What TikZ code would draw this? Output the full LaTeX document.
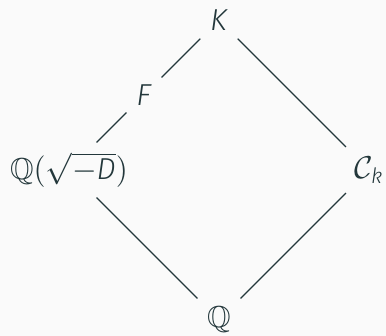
\documentclass[tikz,border=0pt]{standalone}
\usepackage{amsmath,amssymb}
\usepackage{fontspec}
\setmainfont{Fira Sans Light}[ItalicFont={Fira Sans Light Italic}]
\usepackage{xcolor}
\definecolor{mDarkTeal}{HTML}{23373B}
\definecolor{mBack}{HTML}{FAFAFA}
\usetikzlibrary{positioning}

\begin{document}
\begin{tikzpicture}[color=mDarkTeal, line width=0.45pt,
    font=\fontsize{11.5}{13}\selectfont,
    field/.style={inner sep=3.5pt}]

    % --- Background ---
    \fill[mBack] (-2.92,-0.213) rectangle (2.227,4.267);
    \useasboundingbox (-2.92,-0.213) rectangle (2.227,4.267);

    % --- Fields ---
    \node[field] (Q)  at (0,0)  {$\mathbb{Q}$};
    \node[field] (QD) at (-2,2) {$\mathbb{Q}(\sqrt{-\textit{D}})$};
    \node[field] (Ck) at (2,2)  {$\mathcal{C}_{\textit{k}}$};
    \node[field] (F)  at (-1,3) {\textit{F}};
    \node[field] (K)  at (0,4)  {\textit{K}};

    % --- Inclusions ---
    \draw (K) -- (F);
    \draw (F) -- (QD);
    \draw (QD) -- (Q);
    \draw (K) -- (Ck);
    \draw (Ck) -- (Q);

\end{tikzpicture}
\end{document}
